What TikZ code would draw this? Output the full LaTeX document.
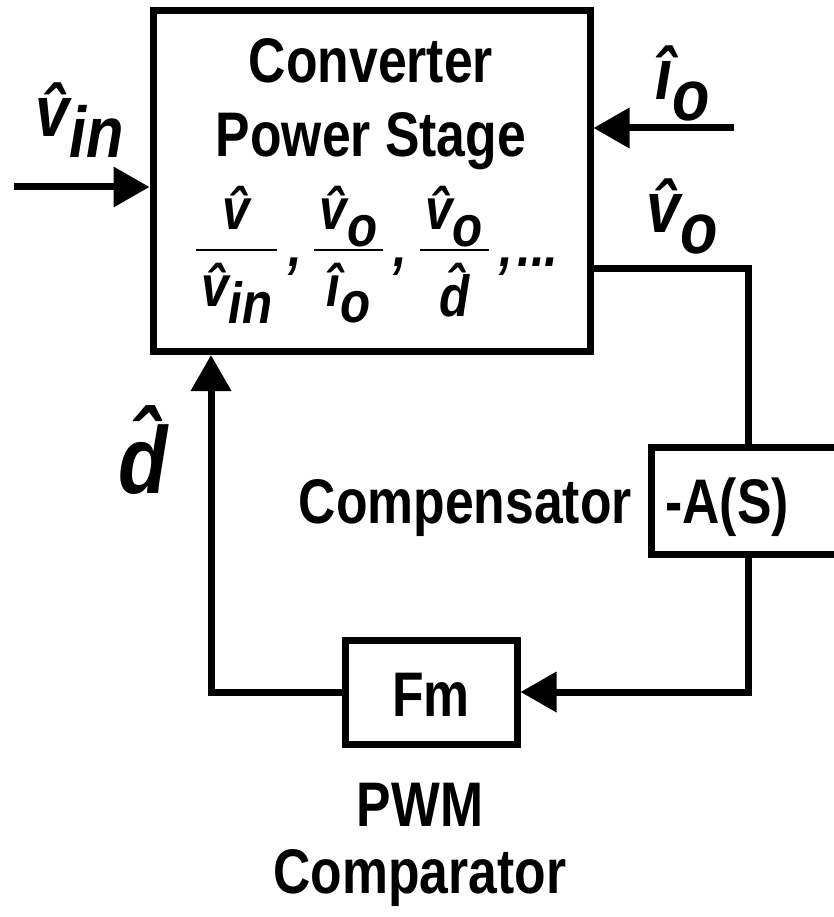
\documentclass[tikz,border=0pt]{standalone}
\usepackage{fontspec}
\usepackage{amsmath}
\setmainfont{Liberation Sans}[FakeStretch=0.82]
\newfontfamily\symfont{Liberation Sans}[FakeStretch=0.85]
\usetikzlibrary{arrows.meta,positioning}
% lowered index in text
\newcommand{\sub}[1]{\raisebox{-0.55ex}{#1}}
% fraction with a bar of given width
\newcommand{\frc}[3]{$\nulldelimiterspace=0pt\genfrac{}{}{2pt}{0}%
  {\hbox to #1{\hss\raisebox{0pt}[\height][13pt]{#2}\hss}}%
  {\hbox to #1{\hss\raisebox{0pt}[\dimexpr\height+6pt\relax]{#3}\hss}}$}
\newcommand{\sep}{\hspace{11pt}\raisebox{-10pt}{,}\hspace{12pt}}
\tikzset{
  blk/.style={draw,line width=7pt,inner sep=0pt},
  sig/.style={line width=7pt},
  arr/.style={sig,-{Triangle[length=36pt,width=39pt]}},
  txt/.style={font=\bfseries\fontsize{63}{67}\selectfont,inner sep=0pt},
  lbl/.style={font=\symfont\bfseries\itshape\fontsize{72}{76}\selectfont,inner sep=0pt}
}
\begin{document}
\begin{tikzpicture}[x=1pt,y=-1pt,line join=miter]
\useasboundingbox (0,0) rectangle (834,917);
\clip (0,0) rectangle (834,917);
% blocks
\node[blk,minimum width=437pt,minimum height=341pt] (pwr) at (371.5,181) {};
\node[blk,minimum width=230pt,minimum height=107pt,anchor=north west] (comp) at (648,443.5) {};
\node[blk,minimum width=172pt,minimum height=104pt] (fm) at (431,692) {};
% texts
\node[txt,anchor=base] (conv) at (371,83) {Converter};
\node[txt,anchor=base] (stage) at (371,157) {Power Stage};
\node[lbl,font=\symfont\bfseries\itshape\fontsize{58}{62}\selectfont,anchor=base west] (tf) at (196,256)
  {\frc{81pt}{\^{v}}{\^{v}\sub{in}}\sep\frc{69pt}{\^{v}\sub{o}}{\^{\i}\sub{o}}\sep
   \frc{69pt}{\^{v}\sub{o}}{\^{d}}\hspace{11pt}\raisebox{-10pt}{,\hspace{4pt}...}};
\node[txt,anchor=base] (asl) at (727,523) {-A(S)};
\node[txt,anchor=base east] (complbl) at (632,523) {Compensator};
\node[txt,anchor=base] (fmt) at (431,716) {Fm};
\node[txt,anchor=base] (pwmlbl) at (420,826) {PWM};
\node[txt,anchor=base] (cmplbl) at (420,893) {Comparator};
% signal labels
\node[lbl,anchor=base west] (vinlbl) at (35,137) {\^{v}\sub{in}};
\node[lbl,anchor=base west] (iolbl) at (655,100) {\^{\i}\sub{o}};
\node[lbl,anchor=base west] (volbl) at (646,233) {\^{v}\sub{o}};
\node[lbl,font=\symfont\bfseries\itshape\fontsize{95}{98}\selectfont,anchor=base west] (dlbl) at (118,493) {\^{d}};
% connectors
\coordinate (vin) at (14,187);
\coordinate (io) at (734,128);
\coordinate (vo) at (748,268);
\coordinate (dc) at (211,692);
\draw[arr] (vin) -- (vin -| pwr.west);
\draw[arr] (io) -- (io -| pwr.east);
\draw[sig] (pwr.east |- vo) -- (vo) -- (vo |- comp.north);
\draw[arr] (vo |- comp.south) |- (fm.east);
\draw[arr] (fm.west) -- (dc) -- (dc |- pwr.south);
\end{tikzpicture}
\end{document}
